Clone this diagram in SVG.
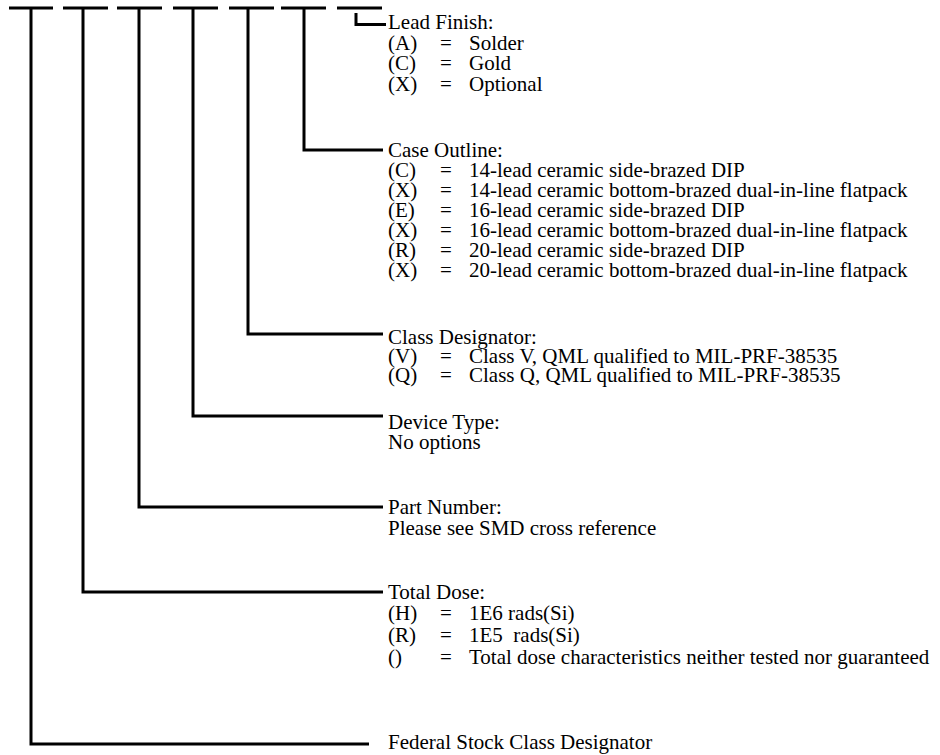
<svg xmlns="http://www.w3.org/2000/svg" width="940" height="755" viewBox="0 0 940 755">
<style>
.ln{stroke:#000;stroke-width:3;fill:none;stroke-linecap:butt}
text{font-family:"Liberation Serif","Times New Roman",serif;font-size:21px;fill:#000}
</style>
<rect width="940" height="755" fill="#fff"/>
<g id="connectors">
<path class="ln" d="M9,8H53M63,8H108M117,8H162M173,8H218M229,8H274M281,8H326M337,8H382"/>
<path class="ln" d="M356,13V24.5H386"/>
<path class="ln" d="M304,8V150H383"/>
<path class="ln" d="M248,8V334H383"/>
<path class="ln" d="M193,8V416H383"/>
<path class="ln" d="M139,8V507H383"/>
<path class="ln" d="M83,8V592H383"/>
<path class="ln" d="M31,8V744H369"/>
</g>
<g id="lead-finish">
<text x="388" y="29">Lead Finish:</text>
<text x="388" y="50">(A)</text><text x="440" y="50">=</text><text x="469" y="50">Solder</text>
<text x="388" y="70">(C)</text><text x="440" y="70">=</text><text x="469" y="70">Gold</text>
<text x="388" y="91">(X)</text><text x="440" y="91">=</text><text x="469" y="91">Optional</text>
</g>
<g id="case-outline">
<text x="388" y="157">Case Outline:</text>
<text x="388" y="177">(C)</text><text x="440" y="177">=</text><text x="469" y="177">14-lead ceramic side-brazed DIP</text>
<text x="388" y="197">(X)</text><text x="440" y="197">=</text><text x="469" y="197">14-lead ceramic bottom-brazed dual-in-line flatpack</text>
<text x="388" y="217">(E)</text><text x="440" y="217">=</text><text x="469" y="217">16-lead ceramic side-brazed DIP</text>
<text x="388" y="237">(X)</text><text x="440" y="237">=</text><text x="469" y="237">16-lead ceramic bottom-brazed dual-in-line flatpack</text>
<text x="388" y="257">(R)</text><text x="440" y="257">=</text><text x="469" y="257">20-lead ceramic side-brazed DIP</text>
<text x="388" y="277">(X)</text><text x="440" y="277">=</text><text x="469" y="277">20-lead ceramic bottom-brazed dual-in-line flatpack</text>
</g>
<g id="class-designator">
<text x="388" y="344">Class Designator:</text>
<text x="388" y="363">(V)</text><text x="440" y="363">=</text><text x="469" y="363">Class V, QML qualified to MIL-PRF-38535</text>
<text x="388" y="382">(Q)</text><text x="440" y="382">=</text><text x="469" y="382">Class Q, QML qualified to MIL-PRF-38535</text>
</g>
<g id="device-type">
<text x="388" y="429">Device Type:</text>
<text x="388" y="449">No options</text>
</g>
<g id="part-number">
<text x="388" y="514">Part Number:</text>
<text x="388" y="535">Please see SMD cross reference</text>
</g>
<g id="total-dose">
<text x="388" y="599">Total Dose:</text>
<text x="388" y="620">(H)</text><text x="440" y="620">=</text><text x="469" y="620">1E6 rads(Si)</text>
<text x="388" y="642">(R)</text><text x="440" y="642">=</text><text x="469" y="642" xml:space="preserve">1E5  rads(Si)</text>
<text x="388" y="664">()</text><text x="440" y="664">=</text><text x="469" y="664">Total dose characteristics neither tested nor guaranteed</text>
</g>
<g id="federal-stock">
<text x="388" y="749">Federal Stock Class Designator</text>
</g>
</svg>
